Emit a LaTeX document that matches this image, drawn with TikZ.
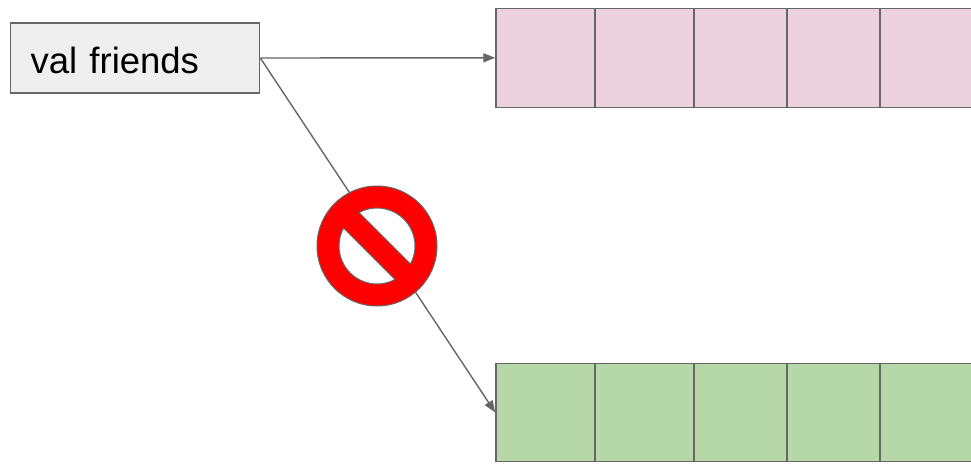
\documentclass[tikz,border=0pt]{standalone}
\usepackage{fontspec}
\setmainfont{Liberation Sans}
\usetikzlibrary{arrows.meta}
\definecolor{edge}{HTML}{666666}
\definecolor{boxfill}{HTML}{EFEFEF}
\definecolor{pinkcell}{HTML}{EAD1DC}
\definecolor{greencell}{HTML}{B6D7A8}
\definecolor{stopred}{HTML}{FF0000}
\tikzset{
  label box/.style={draw=edge,fill=boxfill,line width=1.3pt,anchor=west,
    text width=209pt,inner xsep=20pt,inner ysep=0pt,minimum height=70pt,
    text height=30pt,text depth=0pt,align=left,font=\fontsize{36.5}{40}\selectfont},
  cell/.style={draw=edge,line width=1.5pt,inner sep=0pt},
  pinkcell/.style={cell,fill=pinkcell,minimum height=99pt},
  greencell/.style={cell,fill=greencell,minimum height=98.4pt},
  arr/.style={draw=edge,line width=1.4pt,-{Triangle[length=12pt,width=9pt]}}
}
\begin{document}
\begin{tikzpicture}[x=1pt,y=-1pt]
    \useasboundingbox (0,0) rectangle (971,463);
    \clip (0,0) rectangle (971,463);
    \node[label box] (friends) at (10,58) {val friends};
    \node[pinkcell,minimum width=99pt] (t0) at (545.5,57.8) {};
    \node[pinkcell,minimum width=99pt] (t1) at (644.5,57.8) {};
    \node[pinkcell,minimum width=93pt] (t2) at (740.5,57.8) {};
    \node[pinkcell,minimum width=93pt] (t3) at (833.5,57.8) {};
    \node[pinkcell,minimum width=100pt] (t4) at (930,57.8) {};
    \node[greencell,minimum width=99pt] (b0) at (545.5,412.5) {};
    \node[greencell,minimum width=99pt] (b1) at (644.5,412.5) {};
    \node[greencell,minimum width=93pt] (b2) at (740.5,412.5) {};
    \node[greencell,minimum width=93pt] (b3) at (833.5,412.5) {};
    \node[greencell,minimum width=100pt] (b4) at (930,412.5) {};
    \draw[arr] (friends.east) -- (t0.west);
    \draw[arr] (friends.east) -- (b0.west);
    % no-entry sign over the second arrow
    \coordinate (stop) at (377,246);
    \filldraw[draw=edge,fill=stopred,line width=1pt] (stop) circle[radius=60];
    \filldraw[draw=edge,fill=white,line width=1pt]
      (stop) ++(-118.2:38) arc[start angle=-118.2,end angle=28.2,radius=38] -- cycle;
    \filldraw[draw=edge,fill=white,line width=1pt]
      (stop) ++(61.8:38) arc[start angle=61.8,end angle=208.2,radius=38] -- cycle;
\end{tikzpicture}
\end{document}
